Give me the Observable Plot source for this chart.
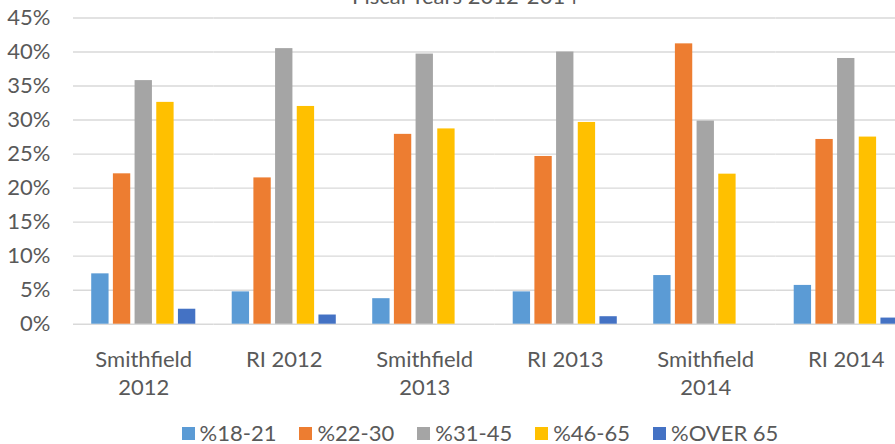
<!DOCTYPE html>
<html><head><meta charset="utf-8">
<script src="https://cdn.jsdelivr.net/npm/d3@7"></script>
<script src="https://cdn.jsdelivr.net/npm/@observablehq/plot@0.6"></script>
<style>
html,body{margin:0;padding:0;overflow:hidden;background:#fff;width:895px;height:444px}
#wrap{position:relative;width:895px;height:444px;overflow:hidden;font-family:Lato, sans-serif;color:#595959}
#title{position:absolute;left:0;width:930px;text-align:center;top:-18px;font-size:22px;line-height:27px;white-space:nowrap}
#chart{position:absolute;left:0;top:0}
#legend{position:absolute;left:0;width:960px;top:423px;display:flex;justify-content:center;gap:23px;font-size:22px;line-height:20px}
.item{display:flex;align-items:center;gap:5px;white-space:nowrap}
.sw{width:13px;height:13px;display:inline-block}
</style></head>
<body>
<div id="wrap">
  <div id="chart"></div>
  <div id="title"></div>
  <div id="legend"></div>
</div>
<script>
const titleText = "Fiscal Years 2012-2014";
const categories = ["Smithfield\n2012", "RI 2012", "Smithfield\n2013", "RI 2013", "Smithfield\n2014", "RI 2014"];
const series = ["%18-21", "%22-30", "%31-45", "%46-65", "%OVER 65"];
const colors = ["#5B9BD5", "#ED7D31", "#A5A5A5", "#FFC000", "#4472C4"];
const age18_21 = [7.4, 4.75, 3.75, 4.75, 7.15, 5.7];
const age22_30 = [22.1, 21.5, 27.9, 24.65, 41.2, 27.15];
const age31_45 = [35.8, 40.5, 39.7, 40.0, 29.85, 39.05];
const age46_65 = [32.6, 32.0, 28.7, 29.65, 22.05, 27.5];
const over65 = [2.2, 1.35, 0, 1.1, 0, 0.9];
const yTicks = [0, 5, 10, 15, 20, 25, 30, 35, 40, 45];

const seriesValues = [age18_21, age22_30, age31_45, age46_65, over65];
const data = [];
categories.forEach((c, i) => {
  series.forEach((s, j) => data.push({category: c, series: s, value: seriesValues[j][i]}));
});

const font = "Lato, sans-serif";
const chart = Plot.plot({
  width: 920,
  height: 400,
  marginLeft: 73,
  marginRight: 4,
  marginTop: 17.5,
  marginBottom: 76.3,
  fx: {domain: categories, padding: 0, round: false, label: null},
  x: {domain: series, paddingInner: 0.2, paddingOuter: 0.84, round: false, axis: null},
  y: {domain: [0, 45], axis: null},
  color: {domain: series, range: colors},
  style: {fontFamily: font, fontSize: "22px", color: "#595959", background: "white", maxWidth: "none", overflow: "visible"},
  marks: [
    Plot.gridY(yTicks, {stroke: "#D9D9D9", strokeOpacity: 1, strokeWidth: 1.4}),
    Plot.barY(data, {fx: "category", x: "series", y: "value", fill: "series"}),
    Plot.axisY(yTicks, {tickSize: 0, tickPadding: 23, tickFormat: d => d + "%", label: null, fontSize: 22}),
    Plot.axisFx({anchor: "bottom", tickSize: 0, tickPadding: 23, label: null, lineHeight: 1.27, fontSize: 22})
  ]
});
chart.style.maxWidth = "none";
chart.style.width = "920px";
chart.style.height = "400px";
document.getElementById("chart").appendChild(chart);
document.getElementById("title").textContent = titleText;

const legend = document.getElementById("legend");
series.forEach((s, j) => {
  const it = document.createElement("div");
  it.className = "item";
  const sw = document.createElement("span");
  sw.className = "sw";
  sw.style.background = colors[j];
  const t = document.createElement("span");
  t.textContent = s;
  it.appendChild(sw); it.appendChild(t);
  legend.appendChild(it);
});
</script>
</body></html>
